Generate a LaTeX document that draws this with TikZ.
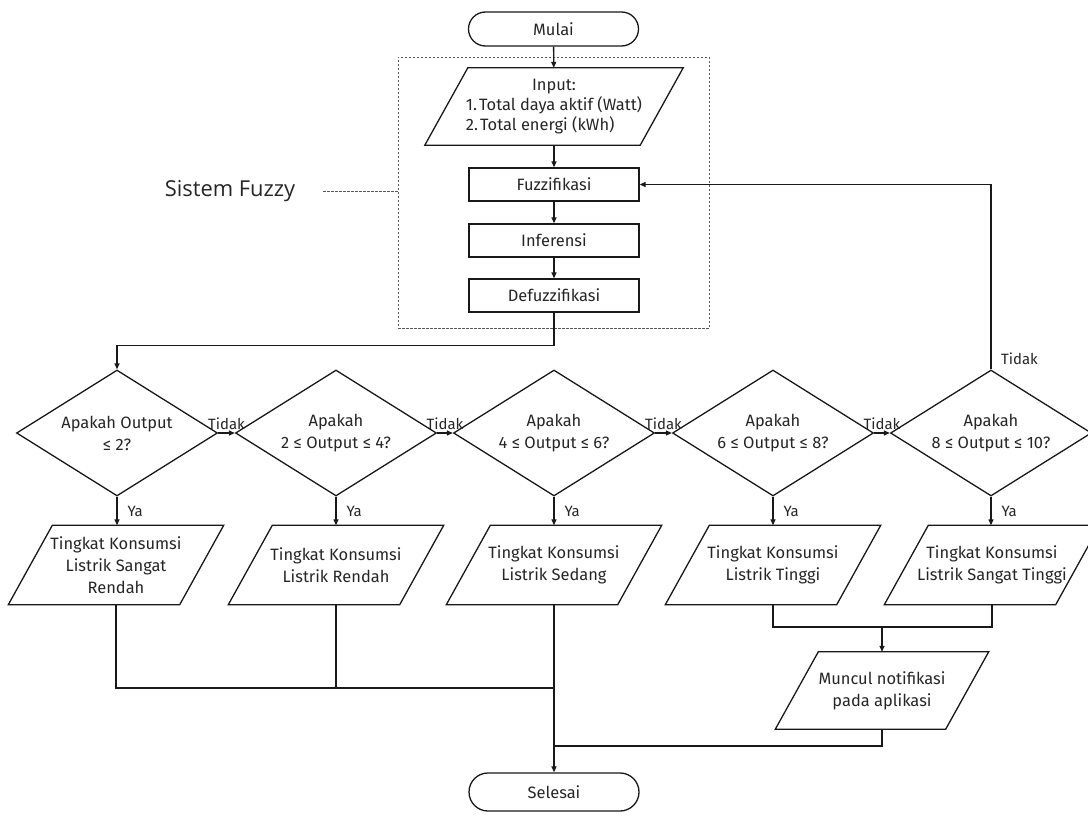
\documentclass[tikz,border=0pt]{standalone}
\usepackage{fontspec}
\setmainfont{Fira Sans}
\newfontfamily\opensans{Open Sans}
\usetikzlibrary{arrows.meta,shapes.geometric,calc}
\tikzset{
  base/.style={font=\fontsize{16.5}{22}\selectfont, text=black!85, align=center, inner sep=0pt},
  line/.style={draw=black!90, line width=1.3bp},
  arr/.style={line, -{Triangle[length=6bp,width=5bp]}},
  term/.style={base, line, minimum width=170bp},
  proc/.style={base, line, minimum width=170bp, minimum height=33bp},
  dec/.style={base, line, diamond, minimum width=201bp, minimum height=126bp, shape aspect=1.6},
  iobox/.style={base, minimum width=#1, minimum height=79bp},
  lab/.style={font=\fontsize{15}{17}\selectfont, text=black!85, inner sep=1bp},
  fzbox/.style={draw=black!65, line width=0.8bp, dash pattern=on 2.5bp off 1.5bp, minimum width=311bp, minimum height=271bp, inner sep=0pt},
}
\newcommand\paraout[2]{\draw[line] ([xshift=-#2]#1.south west) -- ([xshift=-#2]#1.south east) -- ([xshift=#2]#1.north east) -- ([xshift=#2]#1.north west) -- cycle;}
\begin{document}
\begin{tikzpicture}[x=1bp,y=-1bp]
\useasboundingbox (0,0) rectangle (1088,821);
\fill[white] (0,0) rectangle (1088,821);
% dashed fuzzy system box
\node[fzbox] (fz) at (553.5,192.5) {};
\node[font=\opensans\fontsize{22}{26}\selectfont, text=black!85, inner sep=0pt] (sf) at (230,191) {Sistem Fuzzy};
\draw[draw=black!65, line width=0.8bp, dash pattern=on 2.5bp off 1.5bp] ([xshift=28bp]sf.east) -- (sf.east -| fz.west);
% top part
\node[term, minimum height=34bp, rounded corners=17bp] (mulai) at (553.5,29) {Mulai};
\node[iobox=215bp, minimum height=77bp, font=\fontsize{16.5}{19.5}\selectfont] (inp) at (554,106.5)
  {\begin{tabular}{@{}l@{}}\multicolumn{1}{@{}c@{}}{Input:}\\1.\hspace{2bp}Total daya aktif (Watt)\\2.\hspace{2bp}Total energi (kWh)\end{tabular}};
\paraout{inp}{21.5bp}
\node[proc] (fuz) at (554,184.5) {Fuzzifikasi};
\node[proc] (inf) at (554,240.5) {Inferensi};
\node[proc] (def) at (554,295.5) {Defuzzifikasi};
\draw[arr] (mulai) -- (inp);
\draw[arr] (inp) -- (fuz);
\draw[arr] (fuz) -- (inf);
\draw[arr] (inf) -- (def);
% decisions
\node[dec] (d1) at (117,433) {Apakah Output\\≤ 2?};
\node[dec] (d2) at (336,433) {Apakah\\2 ≤ Output ≤ 4?};
\node[dec] (d3) at (554,433) {Apakah\\4 ≤ Output ≤ 6?};
\node[dec] (d4) at (773,433) {Apakah\\6 ≤ Output ≤ 8?};
\node[dec] (d5) at (991,433) {Apakah\\8 ≤ Output ≤ 10?};
\draw[arr] (def.south) -- ++(0,33) -| (d1.north);
\draw[arr] (d1.east) -- node[lab, above=2bp] (t1) {Tidak} (d2.west);
\draw[arr] (d2.east) -- node[lab, above=2bp] (t2) {Tidak} (d3.west);
\draw[arr] (d3.east) -- node[lab, above=2bp] (t3) {Tidak} (d4.west);
\draw[arr] (d4.east) -- node[lab, above=2bp] (t4) {Tidak} (d5.west);
\draw[arr] (d5.north) -- (d5.north |- fuz.east) -- (fuz.east);
\node[lab, anchor=south west] (t5) at ([xshift=9bp,yshift=3bp]d5.north) {Tidak};
% outputs
\node[iobox=171bp] (p1) at (116,565) {Tingkat Konsumsi\\Listrik Sangat\\Rendah};
\node[iobox=171bp] (p2) at (336,565) {Tingkat Konsumsi\\Listrik Rendah};
\node[iobox=171bp] (p3) at (554,565) {Tingkat Konsumsi\\Listrik Sedang};
\node[iobox=171bp] (p4) at (773,565) {Tingkat Konsumsi\\Listrik Tinggi};
\node[iobox=171bp] (p5) at (992,565) {Tingkat Konsumsi\\Listrik Sangat Tinggi};
\paraout{p1}{22bp}
\paraout{p2}{22bp}
\paraout{p3}{22bp}
\paraout{p4}{22bp}
\paraout{p5}{22bp}
\draw[arr] (d1.south) -- node[lab, right=9bp] (y1) {Ya} (d1.south |- p1.north);
\draw[arr] (d2.south) -- node[lab, right=9bp] (y2) {Ya} (d2.south |- p2.north);
\draw[arr] (d3.south) -- node[lab, right=9bp] (y3) {Ya} (d3.south |- p3.north);
\draw[arr] (d4.south) -- node[lab, right=9bp] (y4) {Ya} (d4.south |- p4.north);
\draw[arr] (d5.south) -- node[lab, right=9bp] (y5) {Ya} (d5.south |- p5.north);
% notification
\node[iobox=170bp, minimum height=77bp] (mun) at (882,690.5) {Muncul notifikasi\\pada aplikasi};
\paraout{mun}{21.5bp}
% end
\node[term, minimum height=38bp, rounded corners=19bp] (sel) at (554,792) {Selesai};
\coordinate (j1) at (554,688);
\coordinate (j2) at (882,627);
\coordinate (j3) at (554,746);
\draw[line] (p1.south) |- (j1);
\draw[line] (p2.south) -- (p2.south |- j1);
\draw[arr] (p3.south) -- (sel.north);
\draw[line] (p4.south) |- (j2) -| (p5.south);
\draw[arr] (j2) -- (mun.north);
\draw[line] (mun.south) |- (j3);
\end{tikzpicture}
\end{document}
